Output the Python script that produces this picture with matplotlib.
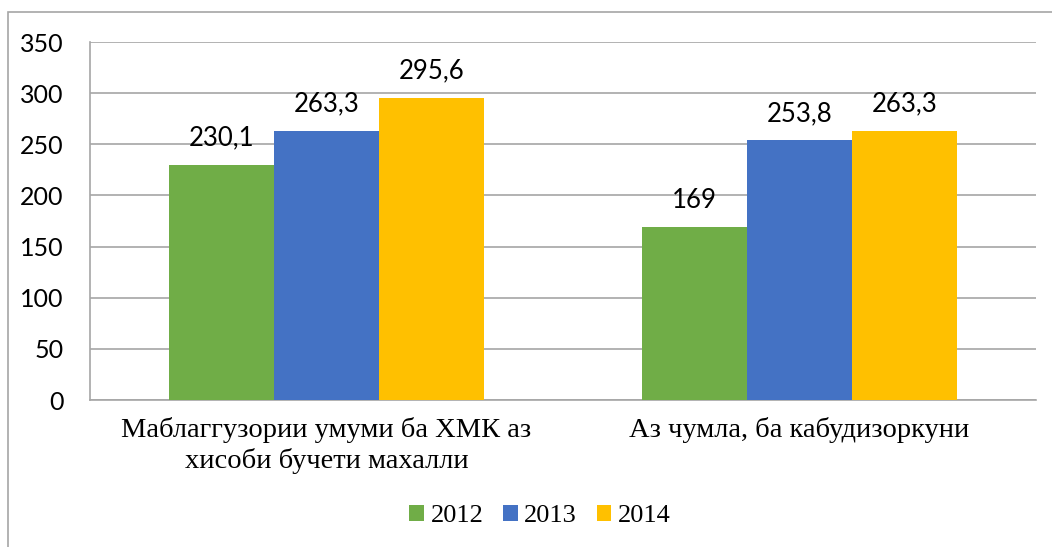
import matplotlib.pyplot as plt
import numpy as np
from matplotlib.patches import Rectangle

categories = ["Маблаггузории умуми ба ХМК аз\nхисоби бучети махалли",
              "Аз чумла, ба кабудизоркуни"]
years = ["2012", "2013", "2014"]
values_2012 = [230.1, 169]
values_2013 = [263.3, 253.8]
values_2014 = [295.6, 263.3]
colors = ["#70AD47", "#4472C4", "#FFC000"]

fig = plt.figure(figsize=(10.52, 5.47), dpi=100)
# figure border (Excel chart area)
fig.patches.append(Rectangle((8 / 1052, -0.01), 1.1, 1 - 12 / 547 + 0.01,
                             transform=fig.transFigure, fill=False,
                             edgecolor="#A6A6A6", lw=1.2))

ax = fig.add_axes([90 / 1052, 1 - 400 / 547, 946 / 1052, 358 / 547])

x = np.arange(len(categories))
w = 0.222
series = [values_2012, values_2013, values_2014]
for i, (vals, c, yr) in enumerate(zip(series, colors, years)):
    bars = ax.bar(x + (i - 1) * w, vals, w, color=c, label=yr, zorder=3)
    for b, v in zip(bars, vals):
        txt = f"{v:g}".replace(".", ",")
        ax.text(b.get_x() + b.get_width() / 2, v + 14, txt, ha="center",
                va="bottom", fontsize=18.5, family="Lato", zorder=4)

ax.set_xlim(-0.5, 1.5)
ax.set_ylim(0, 350)
ax.set_yticks(range(0, 351, 50))
ax.yaxis.grid(True, color="#A6A6A6", lw=1.2, zorder=0)
for s in ["top", "right"]:
    ax.spines[s].set_visible(False)
ax.spines["left"].set_color("#A6A6A6")
ax.spines["bottom"].set_color("#A6A6A6")
ax.spines["left"].set_linewidth(1.2)
ax.spines["bottom"].set_linewidth(1.2)
ax.tick_params(axis="both", length=0)
ax.tick_params(axis="y", labelsize=18, pad=19)
for t in ax.get_yticklabels():
    t.set_family("Lato")
ax.set_xticks(x)
ax.set_xticklabels(categories, fontsize=20.5, family="Liberation Serif",
                   linespacing=1.25)
ax.tick_params(axis="x", pad=12)

fig.legend(loc="center", bbox_to_anchor=(540 / 1052, 1 - 516 / 547), ncol=3,
           frameon=False, prop={"family": "Liberation Serif", "size": 19},
           handlelength=0.55, handleheight=0.55, handletextpad=0.25,
           columnspacing=0.75)

fig.savefig("out.png", dpi=100, facecolor="white")
